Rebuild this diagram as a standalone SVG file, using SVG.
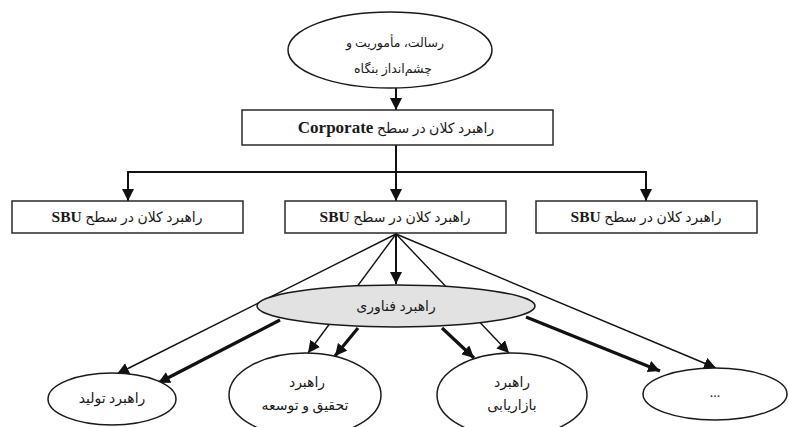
<svg xmlns="http://www.w3.org/2000/svg" width="789" height="427" viewBox="0 0 789 427">
<style>
  .box { fill: #ffffff; stroke: #2a2a2a; stroke-width: 1.5; }
  .ell { fill: #ffffff; stroke: #1a1a1a; stroke-width: 1.5; }
  .tech { fill: #e2e2e2; stroke: #1a1a1a; stroke-width: 1.5; }
  .lbl { font-family: 'Liberation Serif', 'DejaVu Sans', serif; font-size: 14px; fill: #1a1a1a; text-anchor: middle; direction: rtl; unicode-bidi: embed; }
  .sm { font-size: 12.5px; }
  .lat { font-weight: bold; font-size: 15.5px; }
  .latc { font-weight: bold; font-size: 17px; }
  .c2 { fill: none; stroke: #111; stroke-width: 2; }
  .thin { fill: none; stroke: #111; stroke-width: 1.4; }
  .thick { fill: none; stroke: #111; stroke-width: 3.2; }
</style>
<defs>
  <marker id="ah" viewBox="0 0 12 12" refX="12" refY="6" markerUnits="userSpaceOnUse" markerWidth="12" markerHeight="12" orient="auto">
    <path d="M0,0 L12,6 L0,12 z" fill="#111"/>
  </marker>
</defs>
<rect width="789" height="427" fill="#ffffff"/>
<g id="connectors">
  <path class="c2" d="M396,88 L396,110" marker-end="url(#ah)"/>
  <path class="c2" d="M396,145 L396,201" marker-end="url(#ah)"/>
  <path class="c2" d="M396,172 L128,172 L128,201" marker-end="url(#ah)"/>
  <path class="c2" d="M396,172 L646,172 L646,201" marker-end="url(#ah)"/>
  <path class="c2" d="M396,233 L396,284" marker-end="url(#ah)"/>
  <path class="thin" d="M396,234 L117,374" marker-end="url(#ah)"/>
  <path class="thin" d="M396,234 L308,353" marker-end="url(#ah)"/>
  <path class="thin" d="M396,234 L509,353" marker-end="url(#ah)"/>
  <path class="thin" d="M396,234 L716,368" marker-end="url(#ah)"/>
  <path class="thick" d="M280,320 L158,383" marker-end="url(#ah)"/>
  <path class="thick" d="M358,328 L335,356" marker-end="url(#ah)"/>
  <path class="thick" d="M442,328 L474,358" marker-end="url(#ah)"/>
  <path class="thick" d="M526,317 L660,371" marker-end="url(#ah)"/>
</g>
<g id="mission">
  <ellipse class="ell" cx="390" cy="50" rx="102" ry="38"/>
  <text class="lbl sm" x="395" y="47">رسالت، مأموریت و</text>
  <text class="lbl sm" x="393" y="73">چشم‌انداز بنگاه</text>
</g>
<g id="corporate">
  <rect class="box" x="242" y="110" width="311" height="35"/>
  <text class="lbl" x="396" y="133">راهبرد کلان در سطح  <tspan class="latc">Corporate</tspan></text>
</g>
<g id="sbu-left">
  <rect class="box" x="12" y="201" width="231" height="32"/>
  <text class="lbl" x="127" y="222">راهبرد کلان در سطح <tspan class="lat">SBU</tspan></text>
</g>
<g id="sbu-middle">
  <rect class="box" x="285" y="201" width="221" height="32"/>
  <text class="lbl" x="395" y="222">راهبرد کلان در سطح <tspan class="lat">SBU</tspan></text>
</g>
<g id="sbu-right">
  <rect class="box" x="536" y="201" width="221" height="32"/>
  <text class="lbl" x="646" y="222">راهبرد کلان در سطح <tspan class="lat">SBU</tspan></text>
</g>
<g id="technology">
  <ellipse class="tech" cx="396" cy="306" rx="139" ry="21"/>
  <text class="lbl" x="396" y="311">راهبرد فناوری</text>
</g>
<g id="production">
  <ellipse class="ell" cx="112" cy="399" rx="64" ry="26"/>
  <text class="lbl" x="112" y="403">راهبرد تولید</text>
</g>
<g id="rnd">
  <ellipse class="ell" cx="305" cy="395" rx="76" ry="42"/>
  <text class="lbl" x="307" y="387">راهبرد</text>
  <text class="lbl" x="305" y="410">تحقیق و توسعه</text>
</g>
<g id="marketing">
  <ellipse class="ell" cx="512" cy="395" rx="75" ry="42"/>
  <text class="lbl" x="512" y="387">راهبرد</text>
  <text class="lbl" x="512" y="410">بازاریابی</text>
</g>
<g id="more">
  <ellipse class="ell" cx="715" cy="394" rx="72" ry="26"/>
  <text class="lbl" x="715" y="397">...</text>
</g>
</svg>
